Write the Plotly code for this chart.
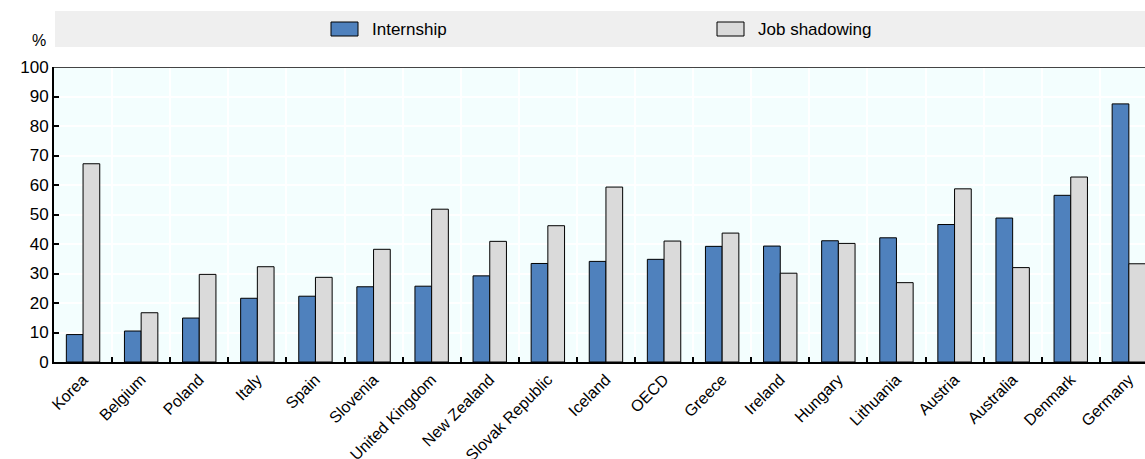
import plotly.graph_objects as go

countries = ["Korea", "Belgium", "Poland", "Italy", "Spain", "Slovenia",
             "United Kingdom", "New Zealand", "Slovak Republic", "Iceland",
             "OECD", "Greece", "Ireland", "Hungary", "Lithuania", "Austria",
             "Australia", "Denmark", "Germany"]
internship = [9.3, 10.5, 14.9, 21.6, 22.3, 25.5, 25.7, 29.2, 33.4, 34.1,
              34.8, 39.2, 39.3, 41.1, 42.1, 46.6, 48.8, 56.5, 87.5]
job_shadowing = [67.2, 16.7, 29.7, 32.3, 28.7, 38.2, 51.8, 40.9, 46.2, 59.3,
                 41.0, 43.7, 30.1, 40.2, 26.9, 58.7, 32.0, 62.7, 33.3]

BLUE = "#4F81BD"
GREY = "#DADADA"
FONT = "Liberation Sans Narrow, Arial Narrow, Liberation Sans, Arial, sans-serif"

W, H = 1145, 459
L, R, T, B = 54, 0, 67, 97

fig = go.Figure()
fig.add_trace(go.Bar(x=countries, y=internship, name="Internship",
                     marker=dict(color=BLUE, line=dict(color="#000000", width=1))))
fig.add_trace(go.Bar(x=countries, y=job_shadowing, name="Job shadowing",
                     marker=dict(color=GREY, line=dict(color="#000000", width=1))))

# category width in px; the last category runs past the right edge
cat_px = 58.1
x_hi = -0.5 + (W - L - R) / cat_px

fig.update_layout(
    width=W, height=H,
    margin=dict(l=L, r=R, t=T, b=B, pad=0),
    paper_bgcolor="white",
    plot_bgcolor="#F3FEFE",
    barmode="group", bargap=0.425, bargroupgap=0,
    showlegend=False,
    font=dict(family=FONT, size=16, color="#000000"),
    xaxis=dict(
        range=[-0.5, x_hi], tickson="boundaries", ticks="inside", ticklen=5,
        tickwidth=2, tickcolor="#000000", tickangle=-45, automargin=False,
        showline=True, linecolor="#000000", linewidth=2,
        showgrid=True, gridcolor="white", gridwidth=2,
        tickfont=dict(size=16),
    ),
    yaxis=dict(
        range=[0, 100], dtick=10, ticks="inside", ticklen=5, tickwidth=2,
        tickcolor="#000000", showline=True, linecolor="#000000", linewidth=2,
        showgrid=True, gridcolor="white", gridwidth=2, zeroline=False,
        automargin=False, tickfont=dict(size=17),
    ),
)

# top frame line
fig.add_shape(type="line", xref="paper", yref="y", x0=0, x1=1, y0=100, y1=100,
              line=dict(color="#444444", width=2))

# legend band
def px_x(v):
    return (v - L) / (W - L - R)

def px_y(v):
    return (H - B - v) / (H - T - B)

fig.add_shape(type="rect", xref="paper", yref="paper",
              x0=px_x(55), x1=px_x(1145), y0=px_y(47), y1=px_y(11),
              fillcolor="#EFEFEF", line=dict(width=0), layer="below")

legend_items = [("Internship", BLUE, 331), ("Job shadowing", GREY, 717)]
for label, col, x0 in legend_items:
    fig.add_shape(type="rect", xref="paper", yref="paper",
                  x0=px_x(x0), x1=px_x(x0 + 27), y0=px_y(36), y1=px_y(22),
                  fillcolor=col, line=dict(color="#000000", width=1))
    fig.add_annotation(xref="paper", yref="paper", x=px_x(x0 + 39), y=px_y(29),
                       text=label, showarrow=False, xanchor="left", yanchor="middle",
                       font=dict(size=17))

fig.add_annotation(xref="paper", yref="paper", x=px_x(48), y=px_y(40),
                   text="%", showarrow=False, xanchor="right", yanchor="middle",
                   font=dict(size=16))

fig.write_html("out.html")
